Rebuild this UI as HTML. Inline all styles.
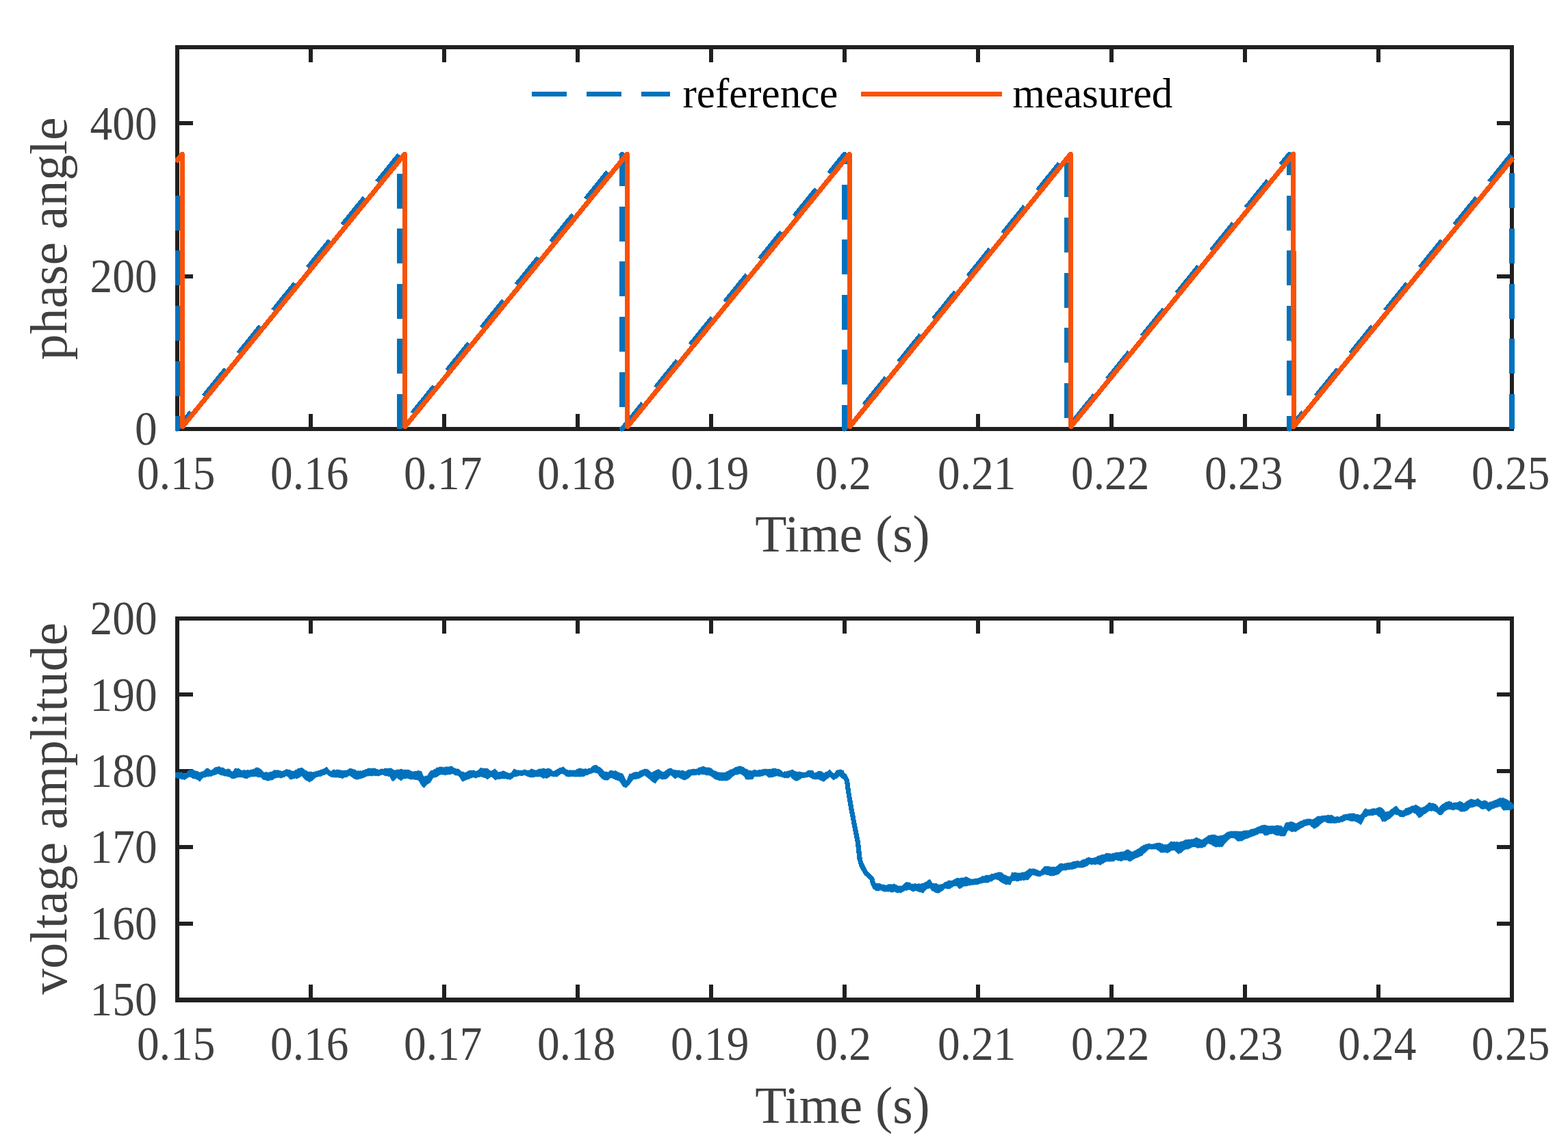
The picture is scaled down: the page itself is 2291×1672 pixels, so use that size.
<!DOCTYPE html>
<html><head><meta charset="utf-8"><title>phase angle and voltage amplitude</title>
<style>
html,body{margin:0;padding:0;background:#fff;width:2291px;height:1672px;overflow:hidden}
svg{display:block}
path,rect{shape-rendering:crispEdges}
text{font-family:"Liberation Serif", "Times New Roman", serif;}
.tk{font-size:69px;fill:#404040}
.lb{font-size:75.6px;fill:#404040}
.lg{font-size:61px;fill:#000}
</style></head><body>
<svg width="2291" height="1672" viewBox="0 0 2291 1672">
<rect width="2291" height="1672" fill="#ffffff"/>
<defs><clipPath id="ca"><rect x="256" y="0" width="1957" height="1672"/></clipPath></defs>
<rect x="259.0" y="69.0" width="1950.0" height="558.0" fill="none" stroke="#202020" stroke-width="6" stroke-linejoin="miter" stroke-linecap="square"/>
<path d="M454.00 627.0V605.0M454.00 69.0V91.0M649.00 627.0V605.0M649.00 69.0V91.0M844.00 627.0V605.0M844.00 69.0V91.0M1039.00 627.0V605.0M1039.00 69.0V91.0M1234.00 627.0V605.0M1234.00 69.0V91.0M1429.00 627.0V605.0M1429.00 69.0V91.0M1624.00 627.0V605.0M1624.00 69.0V91.0M1819.00 627.0V605.0M1819.00 69.0V91.0M2014.00 627.0V605.0M2014.00 69.0V91.0M259.0 404.00H282.0M2209.0 404.00H2187.0M259.0 180.00H282.0M2209.0 180.00H2187.0" fill="none" stroke="#202020" stroke-width="6" stroke-linecap="butt"/>
<g clip-path="url(#ca)">
<path d="M259.00 284.00 L259.00 627.00 L584.00 225.24 L584.00 627.00 L909.00 225.24 L909.00 627.00 L1234.00 225.24 L1234.00 627.00 L1559.00 225.24 L1559.00 627.00 L1884.00 225.24 L1884.00 627.00 L2209.00 225.24 L2209.00 627.00" fill="none" stroke="#0072BD" stroke-width="7.2" stroke-dasharray="51.00 29.57" stroke-dashoffset="-1.81" stroke-linejoin="round"/>
<path d="M259.00 234.14 L266.20 225.24 L266.80 623.50 L591.20 225.24 L591.80 623.50 L916.20 225.24 L916.80 623.50 L1241.10 225.24 L1241.70 623.50 L1564.20 225.24 L1564.80 623.50 L1889.70 225.24 L1890.30 623.50 L2209.00 233.03" fill="none" stroke="#F85208" stroke-width="7.2" stroke-linejoin="round" stroke-linecap="round"/>
</g>
<path d="M777 137.2H979" fill="none" stroke="#0072BD" stroke-width="7.2" stroke-dasharray="51 29.2"/>
<path d="M1258 137.2H1463.7" fill="none" stroke="#F85208" stroke-width="7.2"/>
<text x="997.5" y="157.4" class="lg">reference</text>
<text x="1479.5" y="157.4" class="lg">measured</text>
<text transform="translate(257.20 714.70) scale(0.947 1)" text-anchor="middle" class="tk">0.15</text>
<text transform="translate(452.20 714.70) scale(0.947 1)" text-anchor="middle" class="tk">0.16</text>
<text transform="translate(647.20 714.70) scale(0.947 1)" text-anchor="middle" class="tk">0.17</text>
<text transform="translate(842.20 714.70) scale(0.947 1)" text-anchor="middle" class="tk">0.18</text>
<text transform="translate(1037.20 714.70) scale(0.947 1)" text-anchor="middle" class="tk">0.19</text>
<text transform="translate(1232.20 714.70) scale(0.947 1)" text-anchor="middle" class="tk">0.2</text>
<text transform="translate(1427.20 714.70) scale(0.947 1)" text-anchor="middle" class="tk">0.21</text>
<text transform="translate(1622.20 714.70) scale(0.947 1)" text-anchor="middle" class="tk">0.22</text>
<text transform="translate(1817.20 714.70) scale(0.947 1)" text-anchor="middle" class="tk">0.23</text>
<text transform="translate(2012.20 714.70) scale(0.947 1)" text-anchor="middle" class="tk">0.24</text>
<text transform="translate(2207.20 714.70) scale(0.947 1)" text-anchor="middle" class="tk">0.25</text>
<text transform="translate(229.60 650.20) scale(0.947 1)" text-anchor="end" class="tk">0</text>
<text transform="translate(229.60 427.00) scale(0.947 1)" text-anchor="end" class="tk">200</text>
<text transform="translate(229.60 203.80) scale(0.947 1)" text-anchor="end" class="tk">400</text>
<text x="1231" y="805.8" text-anchor="middle" class="lb">Time (s)</text>
<text transform="translate(96.8 348.8) rotate(-90)" text-anchor="middle" class="lb">phase angle</text>
<rect x="259.0" y="904.0" width="1950.0" height="557.0" fill="none" stroke="#202020" stroke-width="6" stroke-linejoin="miter" stroke-linecap="square"/>
<path d="M454.00 1461.0V1439.0M454.00 904.0V926.0M649.00 1461.0V1439.0M649.00 904.0V926.0M844.00 1461.0V1439.0M844.00 904.0V926.0M1039.00 1461.0V1439.0M1039.00 904.0V926.0M1234.00 1461.0V1439.0M1234.00 904.0V926.0M1429.00 1461.0V1439.0M1429.00 904.0V926.0M1624.00 1461.0V1439.0M1624.00 904.0V926.0M1819.00 1461.0V1439.0M1819.00 904.0V926.0M2014.00 1461.0V1439.0M2014.00 904.0V926.0M259.0 1350.00H282.0M2209.0 1350.00H2187.0M259.0 1238.00H282.0M2209.0 1238.00H2187.0M259.0 1127.00H282.0M2209.0 1127.00H2187.0M259.0 1015.00H282.0M2209.0 1015.00H2187.0" fill="none" stroke="#202020" stroke-width="6" stroke-linecap="butt"/>
<rect x="256" y="1464" width="1956" height="1" fill="#202020"/>
<g clip-path="url(#ca)">
<path d="M256.0 1129.6 L257.6 1129.2 L259.2 1128.6 L261.4 1128.9 L263.5 1129.0 L265.6 1128.6 L267.4 1129.9 L269.1 1130.3 L270.9 1130.7 L272.7 1129.7 L274.4 1126.8 L276.2 1125.9 L278.0 1125.3 L279.7 1125.5 L281.5 1124.3 L283.3 1125.4 L285.0 1126.6 L286.8 1127.0 L288.6 1127.1 L290.3 1128.3 L292.1 1129.1 L293.9 1128.0 L295.6 1127.7 L297.4 1127.0 L299.2 1125.7 L300.9 1123.5 L302.7 1122.7 L304.5 1123.4 L306.2 1124.5 L308.0 1125.9 L309.8 1125.2 L311.5 1123.8 L313.3 1122.2 L315.1 1121.2 L316.8 1121.5 L318.6 1120.6 L320.4 1120.4 L322.1 1121.5 L323.9 1121.7 L325.7 1122.0 L327.4 1122.7 L329.2 1124.3 L331.0 1124.7 L332.7 1123.6 L334.5 1123.8 L336.3 1124.8 L338.0 1127.3 L339.8 1128.0 L341.4 1126.2 L343.0 1123.3 L344.8 1122.8 L346.5 1123.5 L348.3 1122.7 L350.4 1124.4 L352.5 1125.9 L354.7 1126.0 L356.8 1125.2 L358.9 1126.1 L361.0 1125.4 L362.8 1125.5 L364.5 1125.7 L366.3 1124.8 L368.1 1125.0 L369.8 1123.9 L371.6 1123.8 L373.2 1122.5 L374.8 1121.7 L376.6 1121.9 L378.3 1122.6 L380.1 1123.8 L381.9 1124.8 L383.6 1126.7 L385.4 1128.6 L387.2 1128.9 L388.9 1128.2 L390.7 1129.1 L392.8 1129.0 L394.9 1128.1 L397.1 1128.0 L399.2 1126.4 L401.3 1125.4 L403.4 1125.8 L405.5 1125.4 L407.7 1126.1 L409.8 1126.5 L411.9 1127.5 L413.8 1126.7 L415.6 1126.2 L417.5 1124.5 L419.3 1124.3 L421.1 1125.5 L422.9 1124.7 L424.6 1125.9 L426.4 1126.6 L428.2 1127.1 L429.9 1127.0 L431.7 1125.1 L433.5 1124.9 L435.2 1123.3 L437.0 1122.7 L438.8 1122.7 L440.5 1122.2 L442.3 1122.7 L444.1 1124.0 L445.8 1125.9 L447.9 1126.2 L450.1 1128.0 L452.2 1128.0 L454.3 1127.9 L456.4 1128.6 L458.2 1128.4 L460.0 1128.1 L461.7 1127.0 L463.5 1127.2 L465.3 1126.0 L467.0 1125.9 L468.8 1125.0 L470.6 1124.5 L472.3 1123.8 L474.1 1123.3 L475.9 1121.5 L477.6 1121.1 L479.4 1123.4 L481.2 1125.4 L482.9 1127.0 L484.7 1126.8 L486.5 1124.9 L488.2 1124.8 L490.5 1125.6 L492.7 1124.6 L495.0 1125.4 L496.8 1125.3 L498.5 1125.9 L500.3 1125.9 L502.1 1126.5 L503.8 1125.7 L505.6 1125.9 L507.4 1125.6 L509.1 1124.2 L510.9 1123.3 L512.7 1123.3 L514.4 1123.7 L516.2 1124.3 L518.0 1124.7 L519.7 1125.5 L521.5 1127.0 L523.3 1126.3 L525.0 1126.9 L526.8 1126.4 L528.6 1127.0 L530.3 1125.6 L532.1 1125.9 L533.9 1124.2 L535.6 1124.5 L537.4 1122.7 L539.2 1122.9 L540.9 1122.9 L542.7 1123.3 L544.5 1122.7 L546.2 1123.0 L548.0 1122.7 L549.8 1124.1 L551.5 1124.4 L553.3 1125.4 L555.1 1124.7 L556.8 1123.7 L558.6 1123.8 L560.4 1124.2 L562.1 1122.8 L563.9 1123.3 L565.7 1123.1 L567.4 1123.4 L569.2 1122.7 L570.8 1122.5 L572.4 1123.3 L574.0 1124.6 L575.6 1125.4 L577.7 1125.7 L579.8 1124.8 L581.6 1124.8 L583.3 1124.9 L585.1 1124.3 L586.9 1124.1 L588.6 1124.9 L590.4 1125.4 L592.2 1124.7 L593.9 1125.5 L595.7 1124.8 L597.5 1125.3 L599.2 1126.2 L601.0 1127.0 L602.8 1127.7 L604.5 1127.5 L606.3 1127.0 L608.1 1127.5 L609.8 1126.5 L611.6 1126.4 L613.7 1126.9 L615.9 1127.5 L617.4 1131.5 L619.0 1134.9 L620.8 1134.5 L622.6 1133.9 L624.3 1133.9 L626.5 1130.3 L628.6 1127.0 L630.7 1125.9 L632.8 1125.9 L634.6 1124.3 L636.3 1123.8 L638.1 1121.7 L639.9 1122.0 L641.6 1121.1 L643.4 1120.6 L645.2 1121.0 L646.9 1121.1 L648.7 1121.7 L650.5 1120.7 L652.2 1120.6 L654.0 1120.6 L655.8 1120.6 L657.5 1120.4 L659.3 1119.5 L661.1 1120.4 L662.9 1122.1 L664.6 1122.7 L666.4 1123.5 L668.2 1123.7 L669.9 1123.8 L671.7 1125.4 L673.5 1127.0 L675.2 1128.0 L677.0 1128.2 L678.8 1129.0 L680.5 1129.1 L682.3 1127.7 L684.1 1126.9 L685.8 1125.9 L687.6 1126.3 L689.4 1126.2 L691.1 1125.9 L692.9 1126.0 L694.7 1127.2 L696.4 1127.0 L698.2 1125.8 L700.0 1124.2 L701.7 1122.7 L703.5 1122.2 L705.3 1123.1 L707.0 1123.3 L708.8 1122.9 L710.6 1123.5 L712.3 1123.3 L714.1 1124.4 L715.9 1126.2 L717.6 1127.0 L719.4 1125.9 L721.2 1124.9 L722.9 1123.3 L724.7 1124.8 L726.5 1127.0 L728.2 1128.6 L730.5 1128.2 L732.7 1127.6 L735.0 1126.4 L736.8 1126.9 L738.5 1128.3 L740.3 1128.6 L742.1 1129.6 L743.8 1129.9 L745.6 1130.1 L747.4 1128.7 L749.1 1126.5 L750.9 1123.8 L752.7 1124.5 L754.4 1125.2 L756.2 1125.9 L758.0 1125.4 L759.7 1126.4 L761.5 1125.9 L763.3 1126.2 L765.0 1125.2 L766.8 1124.8 L768.6 1125.5 L770.3 1125.9 L772.1 1125.9 L773.9 1125.5 L775.6 1124.0 L777.4 1123.8 L779.2 1124.9 L780.9 1125.3 L782.7 1125.9 L784.5 1125.4 L786.2 1124.4 L788.0 1123.8 L789.8 1123.6 L791.5 1123.5 L793.3 1122.7 L795.1 1123.3 L796.8 1123.7 L798.6 1123.8 L800.4 1123.1 L802.1 1123.3 L803.9 1123.8 L805.7 1124.9 L807.4 1126.5 L809.2 1127.5 L811.0 1125.9 L812.7 1125.3 L814.5 1123.8 L816.3 1123.4 L818.0 1122.1 L819.8 1122.2 L821.4 1121.4 L823.0 1120.6 L825.1 1122.3 L827.2 1124.8 L828.8 1124.7 L830.4 1125.9 L832.2 1125.4 L833.9 1125.6 L835.7 1125.9 L837.5 1125.5 L839.2 1125.5 L841.0 1125.9 L842.8 1124.2 L844.5 1123.7 L846.3 1122.7 L848.1 1122.9 L849.8 1123.6 L851.6 1123.8 L853.4 1123.9 L855.1 1123.4 L856.9 1123.8 L858.7 1124.2 L860.4 1122.7 L862.2 1123.3 L864.0 1121.5 L865.7 1119.8 L867.5 1118.5 L869.3 1118.5 L871.0 1118.3 L872.8 1119.0 L874.6 1120.7 L876.3 1121.3 L878.1 1122.7 L879.9 1123.8 L881.6 1126.4 L883.4 1128.0 L885.2 1127.6 L886.9 1128.4 L888.7 1128.6 L890.3 1127.0 L891.9 1125.9 L893.8 1126.1 L895.6 1126.8 L897.5 1126.7 L899.3 1126.4 L901.1 1127.2 L902.9 1128.6 L904.6 1129.1 L906.4 1130.0 L908.2 1130.3 L909.9 1131.2 L911.7 1134.2 L913.5 1138.4 L915.2 1141.8 L917.3 1136.6 L919.5 1131.2 L921.6 1131.0 L923.7 1130.1 L925.8 1128.6 L927.6 1128.7 L929.4 1128.3 L931.1 1128.6 L932.9 1128.4 L934.7 1126.4 L936.4 1126.4 L938.2 1125.0 L940.0 1124.8 L941.7 1123.8 L943.5 1124.3 L945.3 1124.0 L947.0 1124.8 L948.8 1126.4 L950.6 1128.2 L952.3 1129.1 L954.1 1128.0 L955.9 1127.2 L957.6 1126.4 L959.4 1125.3 L961.2 1124.7 L962.9 1124.3 L964.7 1126.4 L966.5 1127.0 L968.2 1128.6 L970.5 1127.8 L972.7 1126.3 L975.0 1124.3 L977.1 1123.7 L979.2 1122.7 L981.4 1123.3 L983.5 1125.2 L985.6 1125.4 L987.4 1125.5 L989.1 1125.6 L990.9 1125.9 L992.7 1125.6 L994.4 1126.6 L996.2 1125.9 L998.0 1126.4 L999.7 1126.7 L1001.5 1127.5 L1003.3 1126.6 L1005.0 1125.2 L1006.8 1124.8 L1008.6 1124.8 L1010.3 1124.4 L1012.1 1124.3 L1013.9 1123.8 L1015.6 1124.4 L1017.4 1123.8 L1019.2 1123.5 L1020.9 1121.7 L1022.7 1121.7 L1024.5 1121.2 L1026.2 1120.3 L1028.0 1120.1 L1029.8 1121.2 L1031.5 1121.5 L1033.3 1121.7 L1035.1 1121.7 L1036.8 1122.0 L1038.6 1122.7 L1040.4 1123.5 L1042.1 1125.9 L1043.9 1126.4 L1045.7 1126.8 L1047.4 1128.0 L1049.2 1128.6 L1051.0 1128.7 L1052.7 1129.1 L1054.5 1129.1 L1056.3 1129.2 L1058.0 1129.4 L1059.8 1129.1 L1061.6 1127.5 L1063.3 1127.3 L1065.1 1125.9 L1066.9 1124.9 L1068.6 1124.5 L1070.4 1123.8 L1072.2 1122.7 L1073.9 1121.7 L1075.7 1121.1 L1077.5 1120.6 L1079.2 1120.0 L1081.0 1119.5 L1082.8 1119.9 L1084.5 1120.9 L1086.3 1121.1 L1087.9 1122.6 L1089.5 1123.8 L1091.3 1124.0 L1093.0 1125.2 L1094.8 1126.4 L1096.6 1126.2 L1098.3 1126.7 L1100.1 1125.9 L1102.2 1124.8 L1104.0 1125.7 L1105.7 1125.6 L1107.5 1125.9 L1109.3 1124.9 L1111.0 1125.6 L1112.8 1124.8 L1114.6 1124.4 L1116.3 1124.2 L1118.1 1123.8 L1119.9 1124.2 L1121.6 1124.3 L1123.4 1124.3 L1125.2 1123.9 L1126.9 1124.2 L1128.7 1123.3 L1130.5 1123.1 L1132.2 1123.1 L1134.0 1123.3 L1135.8 1124.3 L1137.5 1123.9 L1139.3 1124.8 L1141.1 1125.8 L1142.9 1127.8 L1144.6 1128.6 L1146.4 1127.4 L1148.2 1128.0 L1149.9 1127.0 L1151.7 1126.9 L1153.5 1126.2 L1155.2 1125.9 L1156.8 1125.1 L1158.4 1124.8 L1160.5 1126.6 L1162.6 1127.5 L1164.2 1128.3 L1165.8 1128.0 L1167.6 1127.7 L1169.4 1128.3 L1171.1 1128.6 L1172.9 1128.8 L1174.7 1128.9 L1176.4 1129.1 L1178.2 1127.8 L1180.0 1126.5 L1181.7 1125.9 L1183.5 1126.0 L1185.3 1126.3 L1187.0 1125.9 L1188.6 1127.4 L1190.2 1130.1 L1192.0 1128.7 L1193.7 1128.5 L1195.5 1127.0 L1197.6 1127.4 L1199.7 1127.0 L1201.9 1128.8 L1204.0 1130.1 L1206.1 1128.4 L1208.2 1128.0 L1210.2 1126.6 L1212.3 1124.5 L1214.3 1127.2 L1216.3 1129.3 L1218.3 1130.6 L1220.4 1129.3 L1222.5 1126.9 L1224.7 1126.5 L1226.8 1124.5 L1228.8 1124.7 L1230.8 1125.9 L1232.8 1126.3 L1232.8 1139.0 L1230.8 1138.0 L1228.8 1136.5 L1226.8 1134.2 L1224.7 1136.0 L1222.5 1137.6 L1220.4 1138.1 L1218.3 1140.3 L1216.3 1138.9 L1214.3 1136.7 L1212.3 1135.4 L1210.2 1137.6 L1208.2 1138.6 L1206.1 1140.2 L1204.0 1142.3 L1201.9 1141.8 L1199.7 1140.7 L1197.6 1140.0 L1195.5 1138.6 L1193.7 1138.9 L1192.0 1138.8 L1190.2 1139.2 L1188.6 1138.3 L1187.0 1138.6 L1185.3 1137.0 L1183.5 1136.2 L1181.7 1135.4 L1180.0 1135.8 L1178.2 1136.4 L1176.4 1136.5 L1174.7 1136.8 L1172.9 1136.7 L1171.1 1137.0 L1169.4 1138.7 L1167.6 1139.6 L1165.8 1140.7 L1164.2 1141.2 L1162.6 1141.3 L1160.5 1140.2 L1158.4 1138.6 L1156.8 1137.4 L1155.2 1134.9 L1153.5 1136.1 L1151.7 1137.0 L1149.9 1137.0 L1148.2 1136.7 L1146.4 1137.0 L1144.6 1136.5 L1142.9 1135.9 L1141.1 1135.3 L1139.3 1134.9 L1137.5 1134.5 L1135.8 1133.9 L1134.0 1134.4 L1132.2 1134.7 L1130.5 1135.3 L1128.7 1136.0 L1126.9 1135.7 L1125.2 1136.4 L1123.4 1136.5 L1121.6 1135.3 L1119.9 1133.3 L1118.1 1132.8 L1116.3 1133.1 L1114.6 1134.3 L1112.8 1134.4 L1111.0 1134.7 L1109.3 1135.2 L1107.5 1134.9 L1105.7 1135.2 L1104.0 1134.7 L1102.2 1134.9 L1100.1 1138.6 L1098.3 1139.2 L1096.6 1138.6 L1094.8 1139.2 L1093.0 1139.5 L1091.3 1139.1 L1089.5 1138.6 L1087.9 1135.7 L1086.3 1133.9 L1084.5 1132.5 L1082.8 1131.4 L1081.0 1131.2 L1079.2 1131.5 L1077.5 1132.4 L1075.7 1132.3 L1073.9 1132.6 L1072.2 1133.9 L1070.4 1134.9 L1068.6 1136.7 L1066.9 1138.6 L1065.1 1139.7 L1063.3 1140.5 L1061.6 1141.1 L1059.8 1140.7 L1058.0 1140.6 L1056.3 1140.9 L1054.5 1141.3 L1052.7 1140.6 L1051.0 1140.9 L1049.2 1140.2 L1047.4 1139.5 L1045.7 1139.2 L1043.9 1138.6 L1042.1 1136.8 L1040.4 1135.5 L1038.6 1134.4 L1036.8 1133.5 L1035.1 1133.2 L1033.3 1132.8 L1031.5 1133.0 L1029.8 1132.1 L1028.0 1131.7 L1026.2 1132.0 L1024.5 1131.4 L1022.7 1132.3 L1020.9 1133.1 L1019.2 1132.0 L1017.4 1132.8 L1015.6 1132.7 L1013.9 1133.2 L1012.1 1132.8 L1010.3 1133.5 L1008.6 1135.4 L1006.8 1136.5 L1005.0 1138.2 L1003.3 1138.7 L1001.5 1139.7 L999.7 1139.9 L998.0 1139.4 L996.2 1138.6 L994.4 1137.7 L992.7 1136.8 L990.9 1136.0 L989.1 1136.4 L987.4 1137.6 L985.6 1137.6 L983.5 1135.7 L981.4 1133.8 L979.2 1132.8 L977.1 1135.6 L975.0 1137.6 L972.7 1138.7 L970.5 1138.5 L968.2 1139.2 L966.5 1139.1 L964.7 1138.0 L962.9 1138.1 L961.2 1140.4 L959.4 1142.1 L957.6 1145.0 L955.9 1144.2 L954.1 1143.3 L952.3 1141.8 L950.6 1140.5 L948.8 1138.3 L947.0 1137.6 L945.3 1135.9 L943.5 1134.5 L941.7 1133.3 L940.0 1134.3 L938.2 1135.1 L936.4 1136.5 L934.7 1137.2 L932.9 1138.2 L931.1 1138.1 L929.4 1138.9 L927.6 1138.6 L925.8 1139.2 L923.7 1141.3 L921.6 1143.8 L919.5 1147.1 L917.3 1148.6 L915.2 1151.3 L913.5 1150.7 L911.7 1150.3 L909.9 1149.2 L908.2 1146.0 L906.4 1143.6 L904.6 1141.3 L902.9 1141.0 L901.1 1139.9 L899.3 1139.7 L897.5 1138.6 L895.6 1137.8 L893.8 1137.2 L891.9 1137.0 L890.3 1138.5 L888.7 1140.2 L886.9 1140.6 L885.2 1139.9 L883.4 1140.2 L881.6 1139.3 L879.9 1138.1 L878.1 1136.5 L876.3 1134.8 L874.6 1132.1 L872.8 1129.6 L871.0 1129.9 L869.3 1129.2 L867.5 1129.1 L865.7 1129.7 L864.0 1130.5 L862.2 1130.7 L860.4 1131.6 L858.7 1132.6 L856.9 1132.8 L855.1 1133.6 L853.4 1134.6 L851.6 1134.9 L849.8 1134.8 L848.1 1135.2 L846.3 1135.4 L844.5 1134.9 L842.8 1135.3 L841.0 1135.4 L839.2 1135.0 L837.5 1134.7 L835.7 1134.9 L833.9 1134.5 L832.2 1135.5 L830.4 1135.4 L828.8 1134.6 L827.2 1134.9 L825.1 1132.7 L823.0 1131.2 L821.4 1131.0 L819.8 1130.7 L818.0 1132.2 L816.3 1133.3 L814.5 1135.4 L812.7 1135.1 L811.0 1134.9 L809.2 1135.4 L807.4 1134.6 L805.7 1134.5 L803.9 1134.4 L802.1 1135.9 L800.4 1136.9 L798.6 1137.6 L796.8 1137.0 L795.1 1137.3 L793.3 1137.6 L791.5 1136.1 L789.8 1135.4 L788.0 1134.9 L786.2 1135.5 L784.5 1135.2 L782.7 1135.4 L780.9 1135.3 L779.2 1136.4 L777.4 1136.0 L775.6 1136.1 L773.9 1135.8 L772.1 1135.4 L770.3 1134.4 L768.6 1133.8 L766.8 1132.8 L765.0 1133.1 L763.3 1133.6 L761.5 1133.9 L759.7 1133.4 L758.0 1133.8 L756.2 1134.4 L754.4 1135.2 L752.7 1135.2 L750.9 1135.4 L749.1 1137.4 L747.4 1138.3 L745.6 1139.7 L743.8 1138.8 L742.1 1138.7 L740.3 1138.6 L738.5 1137.9 L736.8 1138.3 L735.0 1138.1 L732.7 1138.1 L730.5 1138.5 L728.2 1138.6 L726.5 1138.5 L724.7 1140.0 L722.9 1139.7 L721.2 1137.6 L719.4 1136.2 L717.6 1135.4 L715.9 1136.4 L714.1 1137.8 L712.3 1139.2 L710.6 1137.9 L708.8 1136.8 L707.0 1136.5 L705.3 1136.0 L703.5 1135.2 L701.7 1135.4 L700.0 1135.6 L698.2 1135.9 L696.4 1137.0 L694.7 1137.3 L692.9 1136.3 L691.1 1136.0 L689.4 1137.4 L687.6 1137.1 L685.8 1138.6 L684.1 1138.6 L682.3 1139.5 L680.5 1140.2 L678.8 1140.8 L677.0 1142.0 L675.2 1141.8 L673.5 1139.2 L671.7 1135.9 L669.9 1133.9 L668.2 1133.4 L666.4 1133.5 L664.6 1132.8 L662.9 1131.6 L661.1 1131.0 L659.3 1131.2 L657.5 1132.2 L655.8 1131.8 L654.0 1132.3 L652.2 1132.5 L650.5 1132.9 L648.7 1132.3 L646.9 1132.5 L645.2 1131.9 L643.4 1132.3 L641.6 1132.9 L639.9 1134.7 L638.1 1135.4 L636.3 1136.3 L634.6 1136.2 L632.8 1137.0 L630.7 1140.4 L628.6 1143.9 L626.5 1145.0 L624.3 1146.6 L622.6 1148.0 L620.8 1150.4 L619.0 1151.3 L617.4 1149.6 L615.9 1148.2 L613.7 1143.9 L611.6 1140.7 L609.8 1140.0 L608.1 1139.4 L606.3 1139.7 L604.5 1139.1 L602.8 1138.9 L601.0 1139.2 L599.2 1138.9 L597.5 1138.3 L595.7 1137.6 L593.9 1137.4 L592.2 1138.2 L590.4 1138.1 L588.6 1138.4 L586.9 1140.5 L585.1 1140.7 L583.3 1139.3 L581.6 1138.2 L579.8 1136.5 L577.7 1139.2 L575.6 1141.3 L574.0 1141.6 L572.4 1140.7 L570.8 1137.4 L569.2 1134.4 L567.4 1135.0 L565.7 1133.7 L563.9 1134.4 L562.1 1133.7 L560.4 1132.6 L558.6 1132.3 L556.8 1132.7 L555.1 1133.2 L553.3 1134.4 L551.5 1133.9 L549.8 1133.7 L548.0 1133.9 L546.2 1133.4 L544.5 1134.4 L542.7 1133.9 L540.9 1133.9 L539.2 1134.0 L537.4 1134.4 L535.6 1134.6 L533.9 1135.3 L532.1 1136.5 L530.3 1136.5 L528.6 1137.5 L526.8 1138.1 L525.0 1138.3 L523.3 1139.0 L521.5 1139.2 L519.7 1139.2 L518.0 1138.1 L516.2 1137.6 L514.4 1135.4 L512.7 1135.1 L510.9 1133.3 L509.1 1134.2 L507.4 1135.6 L505.6 1136.0 L503.8 1136.0 L502.1 1137.0 L500.3 1138.1 L498.5 1136.9 L496.8 1136.5 L495.0 1136.5 L492.7 1136.2 L490.5 1136.5 L488.2 1136.0 L486.5 1135.9 L484.7 1135.7 L482.9 1135.4 L481.2 1134.1 L479.4 1133.1 L477.6 1131.2 L475.9 1131.6 L474.1 1132.7 L472.3 1132.8 L470.6 1133.7 L468.8 1134.7 L467.0 1134.9 L465.3 1134.8 L463.5 1135.5 L461.7 1136.0 L460.0 1137.4 L458.2 1139.3 L456.4 1140.7 L454.3 1141.8 L452.2 1143.4 L450.1 1141.8 L447.9 1140.7 L445.8 1139.7 L444.1 1137.9 L442.3 1135.3 L440.5 1133.9 L438.8 1135.5 L437.0 1136.6 L435.2 1137.6 L433.5 1138.4 L431.7 1137.4 L429.9 1138.1 L428.2 1138.1 L426.4 1139.1 L424.6 1139.2 L422.9 1138.2 L421.1 1135.5 L419.3 1134.4 L417.5 1134.4 L415.6 1136.0 L413.8 1135.7 L411.9 1137.0 L409.8 1137.3 L407.7 1136.4 L405.5 1136.5 L403.4 1137.0 L401.3 1137.6 L399.2 1139.4 L397.1 1140.2 L394.9 1140.2 L392.8 1141.1 L390.7 1141.3 L388.9 1140.2 L387.2 1139.6 L385.4 1139.7 L383.6 1138.7 L381.9 1136.6 L380.1 1136.0 L378.3 1135.8 L376.6 1135.6 L374.8 1134.9 L373.2 1134.5 L371.6 1134.9 L369.8 1135.4 L368.1 1135.1 L366.3 1135.4 L364.5 1136.0 L362.8 1136.7 L361.0 1138.1 L358.9 1137.6 L356.8 1137.4 L354.7 1136.2 L352.5 1136.0 L350.4 1136.0 L348.3 1136.0 L346.5 1136.2 L344.8 1137.2 L343.0 1137.6 L341.4 1137.9 L339.8 1138.1 L338.0 1137.8 L336.3 1136.3 L334.5 1135.4 L332.7 1135.3 L331.0 1134.2 L329.2 1134.4 L327.4 1134.3 L325.7 1133.1 L323.9 1133.3 L322.1 1132.3 L320.4 1132.2 L318.6 1130.7 L316.8 1131.4 L315.1 1132.2 L313.3 1132.8 L311.5 1133.2 L309.8 1134.1 L308.0 1134.9 L306.2 1134.4 L304.5 1135.4 L302.7 1134.9 L300.9 1135.8 L299.2 1136.1 L297.4 1136.5 L295.6 1137.8 L293.9 1139.8 L292.1 1142.3 L290.3 1141.1 L288.6 1139.7 L286.8 1139.2 L285.0 1138.0 L283.3 1138.3 L281.5 1137.6 L279.7 1136.4 L278.0 1136.0 L276.2 1135.4 L274.4 1136.8 L272.7 1137.4 L270.9 1139.2 L269.1 1139.7 L267.4 1138.9 L265.6 1139.2 L263.5 1137.9 L261.4 1138.0 L259.2 1137.0 L257.6 1137.2 L256.0 1136.0Z" fill="#0072BD" stroke="#0072BD" stroke-width="0.6" stroke-linejoin="round"/>
<path d="M1279.2 1290.7 L1281.4 1291.1 L1283.5 1291.4 L1285.6 1291.3 L1287.4 1292.2 L1289.1 1293.0 L1290.9 1292.9 L1292.7 1293.4 L1294.4 1293.8 L1296.2 1293.4 L1298.0 1292.4 L1299.7 1292.6 L1301.5 1292.3 L1303.3 1292.8 L1305.0 1292.2 L1306.8 1291.8 L1308.6 1293.4 L1310.3 1293.4 L1312.1 1295.0 L1313.9 1294.9 L1315.6 1294.6 L1317.4 1295.0 L1319.2 1293.5 L1320.9 1291.9 L1322.7 1290.2 L1324.5 1289.4 L1326.2 1289.5 L1328.0 1289.7 L1329.8 1290.1 L1331.5 1291.7 L1333.3 1291.8 L1335.1 1292.2 L1336.8 1291.3 L1338.6 1291.8 L1340.4 1292.2 L1342.1 1291.3 L1343.9 1291.8 L1345.7 1291.8 L1347.4 1290.9 L1349.2 1291.3 L1351.0 1289.3 L1352.7 1289.3 L1354.5 1287.6 L1356.6 1286.1 L1358.7 1285.4 L1360.3 1287.4 L1361.9 1290.2 L1363.7 1291.2 L1365.5 1291.4 L1367.2 1291.3 L1369.0 1291.5 L1370.8 1293.0 L1372.5 1292.9 L1374.3 1292.6 L1376.1 1292.4 L1377.8 1291.8 L1379.4 1290.1 L1381.0 1289.2 L1382.8 1288.9 L1384.5 1287.7 L1386.3 1286.5 L1388.1 1287.3 L1389.8 1287.4 L1391.6 1287.0 L1393.4 1285.7 L1395.1 1284.7 L1396.9 1283.9 L1398.7 1283.4 L1400.4 1283.4 L1402.2 1283.9 L1404.0 1282.9 L1405.7 1282.9 L1407.5 1282.8 L1409.3 1282.6 L1411.0 1281.4 L1412.8 1281.7 L1414.6 1283.0 L1416.3 1283.6 L1418.1 1284.9 L1419.9 1284.5 L1421.6 1285.0 L1423.4 1284.4 L1425.2 1284.2 L1426.9 1283.8 L1428.7 1283.9 L1430.5 1282.9 L1432.2 1282.4 L1434.0 1281.2 L1435.8 1280.1 L1437.5 1280.8 L1439.3 1279.6 L1441.1 1278.8 L1442.9 1279.6 L1444.6 1279.1 L1446.4 1279.0 L1448.2 1277.3 L1449.9 1277.5 L1451.7 1277.4 L1453.5 1276.2 L1455.2 1275.9 L1457.0 1275.7 L1458.8 1274.5 L1460.5 1274.8 L1462.3 1274.9 L1464.1 1275.8 L1465.8 1277.0 L1467.6 1278.7 L1469.4 1278.7 L1471.1 1280.1 L1472.9 1280.7 L1474.7 1281.1 L1476.4 1280.7 L1478.5 1274.8 L1480.1 1275.7 L1481.7 1275.4 L1483.5 1275.3 L1485.3 1275.5 L1487.0 1275.9 L1488.8 1275.8 L1490.6 1275.9 L1492.3 1275.4 L1494.1 1274.5 L1495.9 1275.0 L1497.6 1274.3 L1499.4 1273.3 L1501.2 1272.0 L1502.9 1270.1 L1504.7 1269.2 L1506.5 1270.3 L1508.2 1269.5 L1510.5 1269.5 L1512.7 1270.4 L1515.0 1271.2 L1516.8 1271.9 L1518.5 1272.8 L1520.3 1272.8 L1522.1 1270.4 L1523.8 1269.1 L1525.6 1266.4 L1527.4 1266.5 L1529.1 1266.2 L1530.9 1266.4 L1532.7 1266.5 L1534.4 1266.7 L1536.2 1267.5 L1538.0 1266.9 L1539.7 1267.0 L1541.5 1267.5 L1543.3 1266.3 L1545.0 1265.3 L1546.8 1263.2 L1548.6 1262.4 L1550.3 1261.9 L1552.1 1262.2 L1553.9 1262.7 L1555.6 1261.9 L1557.4 1261.6 L1559.2 1261.3 L1560.9 1260.9 L1562.7 1261.1 L1564.5 1260.5 L1566.2 1260.2 L1568.0 1259.0 L1569.8 1258.8 L1571.5 1258.5 L1573.3 1258.5 L1575.1 1257.8 L1576.8 1259.0 L1578.6 1258.5 L1580.4 1256.9 L1582.1 1256.7 L1583.9 1255.8 L1585.7 1255.6 L1587.4 1253.9 L1589.2 1253.7 L1591.3 1252.6 L1592.9 1253.8 L1594.5 1254.2 L1596.3 1254.5 L1598.0 1253.7 L1599.8 1253.2 L1601.6 1252.9 L1603.3 1251.2 L1605.1 1251.0 L1606.7 1250.4 L1608.3 1250.0 L1610.4 1249.0 L1612.5 1248.9 L1614.1 1248.6 L1615.7 1247.3 L1617.5 1247.0 L1619.2 1247.3 L1621.0 1247.3 L1622.8 1247.9 L1624.5 1247.5 L1626.3 1246.8 L1628.1 1247.1 L1629.8 1246.0 L1631.6 1245.7 L1633.4 1245.5 L1635.1 1245.7 L1636.9 1245.2 L1638.7 1245.0 L1640.4 1244.6 L1642.2 1244.7 L1644.0 1243.5 L1645.7 1242.1 L1647.5 1241.5 L1649.1 1242.1 L1650.7 1243.1 L1652.8 1244.7 L1654.6 1244.8 L1656.3 1244.3 L1658.1 1243.1 L1659.9 1242.4 L1661.6 1241.3 L1663.4 1240.4 L1665.2 1239.0 L1666.9 1237.4 L1668.7 1236.7 L1670.5 1235.4 L1672.2 1235.0 L1674.0 1233.6 L1675.8 1233.9 L1677.5 1233.0 L1679.3 1233.0 L1681.1 1233.6 L1682.9 1233.8 L1684.6 1233.6 L1686.4 1233.3 L1688.2 1232.7 L1689.9 1232.0 L1691.7 1232.3 L1693.5 1231.8 L1695.2 1232.0 L1697.0 1233.1 L1698.8 1233.4 L1700.5 1234.6 L1702.3 1234.4 L1704.1 1234.6 L1705.8 1234.1 L1707.6 1232.9 L1709.4 1231.0 L1711.1 1229.8 L1712.9 1230.6 L1714.7 1230.4 L1716.4 1230.4 L1718.2 1230.7 L1720.0 1230.0 L1721.7 1230.9 L1723.5 1230.6 L1725.3 1229.8 L1727.0 1229.8 L1728.8 1229.2 L1730.6 1228.0 L1732.3 1227.2 L1734.1 1227.5 L1735.9 1227.0 L1737.6 1226.7 L1739.4 1227.1 L1741.2 1226.4 L1742.9 1226.7 L1744.7 1225.8 L1746.5 1224.9 L1748.2 1223.5 L1750.5 1225.3 L1752.7 1225.9 L1755.0 1227.5 L1756.8 1227.1 L1758.5 1226.2 L1760.3 1224.8 L1762.1 1223.7 L1763.8 1222.7 L1765.6 1220.6 L1767.4 1221.0 L1769.1 1220.3 L1770.9 1220.1 L1772.7 1220.3 L1774.4 1219.9 L1776.2 1220.6 L1778.0 1221.4 L1779.7 1221.9 L1781.5 1221.6 L1783.3 1221.3 L1785.0 1221.2 L1786.8 1220.6 L1788.6 1219.7 L1790.3 1218.4 L1792.1 1216.9 L1793.9 1215.7 L1795.6 1215.9 L1797.4 1214.8 L1799.2 1214.9 L1800.9 1215.0 L1802.7 1214.8 L1804.5 1214.6 L1806.2 1214.9 L1808.0 1214.8 L1809.8 1215.3 L1811.5 1215.3 L1813.3 1215.3 L1815.1 1215.2 L1816.8 1213.9 L1818.6 1214.2 L1820.4 1213.6 L1822.1 1213.8 L1823.9 1213.7 L1825.7 1213.2 L1827.4 1211.9 L1829.2 1211.6 L1831.0 1211.5 L1832.7 1211.1 L1834.5 1210.5 L1836.3 1209.0 L1838.0 1208.7 L1839.8 1207.9 L1841.6 1207.0 L1843.3 1206.2 L1845.1 1206.3 L1846.7 1205.5 L1848.3 1205.7 L1850.4 1206.3 L1852.5 1207.3 L1854.1 1206.9 L1855.7 1207.3 L1857.5 1206.9 L1859.2 1206.7 L1861.0 1207.3 L1862.8 1206.9 L1864.5 1206.5 L1866.3 1206.3 L1868.1 1206.6 L1869.8 1206.8 L1871.6 1206.8 L1873.2 1208.0 L1874.8 1210.0 L1876.4 1207.1 L1878.0 1203.1 L1880.1 1201.9 L1882.2 1202.0 L1884.0 1201.5 L1885.7 1201.0 L1887.5 1201.0 L1889.3 1201.7 L1891.0 1202.2 L1892.8 1203.6 L1894.6 1203.4 L1896.3 1202.0 L1898.1 1201.5 L1899.9 1200.0 L1901.6 1199.9 L1903.4 1198.9 L1905.2 1197.8 L1906.9 1197.9 L1908.7 1197.3 L1910.5 1196.9 L1912.2 1197.0 L1914.0 1196.7 L1915.8 1197.6 L1917.5 1197.5 L1919.3 1197.3 L1921.1 1195.7 L1922.9 1194.9 L1924.6 1193.0 L1926.4 1193.2 L1928.2 1192.8 L1929.9 1193.0 L1931.7 1192.2 L1933.5 1192.4 L1935.2 1192.0 L1937.0 1191.7 L1938.8 1191.9 L1940.5 1190.9 L1942.3 1191.7 L1944.1 1191.4 L1945.8 1191.4 L1947.6 1192.1 L1949.4 1193.7 L1951.1 1194.1 L1952.9 1193.4 L1954.7 1193.5 L1956.4 1194.1 L1958.2 1193.3 L1960.0 1192.5 L1961.7 1191.4 L1963.5 1190.4 L1965.3 1190.6 L1967.0 1189.8 L1968.8 1190.2 L1970.6 1189.3 L1972.3 1189.3 L1974.1 1189.0 L1975.9 1188.6 L1977.6 1188.8 L1979.4 1189.0 L1981.2 1190.5 L1982.9 1190.4 L1984.7 1190.4 L1986.5 1191.4 L1988.2 1190.9 L1990.2 1188.4 L1992.2 1185.0 L1994.2 1181.8 L1996.4 1182.0 L1998.5 1183.5 L2000.6 1183.4 L2002.4 1182.9 L2004.1 1182.2 L2005.9 1181.8 L2007.7 1181.4 L2009.4 1182.1 L2011.2 1181.3 L2013.0 1180.7 L2014.7 1179.9 L2016.5 1179.7 L2018.1 1180.4 L2019.7 1181.3 L2021.8 1183.4 L2023.9 1186.6 L2025.7 1186.6 L2027.5 1186.1 L2029.2 1186.0 L2030.8 1184.2 L2032.4 1182.9 L2034.2 1182.0 L2035.9 1180.8 L2037.7 1179.2 L2039.3 1178.2 L2040.9 1178.6 L2043.0 1181.3 L2045.1 1183.9 L2047.2 1184.1 L2049.4 1185.0 L2051.5 1183.7 L2053.6 1181.3 L2055.4 1181.3 L2057.1 1180.2 L2058.9 1180.2 L2060.7 1179.0 L2062.4 1178.0 L2064.2 1177.6 L2066.3 1177.5 L2068.4 1176.0 L2070.6 1177.0 L2072.7 1178.6 L2074.8 1179.8 L2076.9 1180.7 L2078.7 1179.8 L2080.5 1179.2 L2082.2 1178.1 L2084.0 1176.6 L2085.8 1175.3 L2087.5 1173.3 L2089.3 1173.0 L2091.1 1174.0 L2092.8 1173.9 L2094.6 1174.1 L2096.4 1175.0 L2098.1 1175.4 L2100.3 1177.9 L2102.4 1180.7 L2104.5 1178.1 L2106.6 1176.0 L2108.4 1175.0 L2110.1 1173.8 L2111.9 1172.8 L2113.7 1171.9 L2115.4 1171.7 L2117.2 1170.7 L2119.0 1171.9 L2120.7 1172.1 L2122.5 1173.9 L2124.3 1173.2 L2126.0 1173.1 L2127.8 1172.8 L2129.6 1172.7 L2131.3 1171.9 L2133.1 1170.7 L2134.9 1172.0 L2136.6 1172.5 L2138.4 1174.4 L2140.2 1173.5 L2141.9 1171.8 L2143.7 1170.7 L2145.5 1169.7 L2147.2 1168.8 L2149.0 1167.5 L2150.8 1168.2 L2152.5 1168.5 L2154.3 1169.1 L2156.1 1169.0 L2157.9 1167.5 L2159.6 1167.0 L2161.7 1168.7 L2163.9 1170.7 L2166.0 1171.0 L2168.1 1169.9 L2170.2 1170.1 L2172.0 1170.7 L2173.8 1172.4 L2175.5 1172.8 L2177.3 1171.5 L2179.1 1171.8 L2180.8 1170.7 L2182.6 1170.4 L2184.4 1169.5 L2186.1 1169.1 L2187.9 1167.7 L2189.7 1167.4 L2191.4 1165.9 L2193.2 1166.7 L2195.0 1165.8 L2196.7 1166.4 L2198.5 1167.1 L2200.3 1167.9 L2202.0 1168.6 L2203.8 1169.8 L2205.6 1170.8 L2207.3 1172.3 L2208.9 1173.1 L2210.5 1174.9 L2211.5 1175.9 L2211.5 1181.3 L2210.5 1182.3 L2208.9 1182.5 L2207.3 1183.9 L2205.6 1183.7 L2203.8 1183.8 L2202.0 1183.9 L2200.3 1183.7 L2198.5 1184.4 L2196.7 1184.5 L2195.0 1182.5 L2193.2 1179.9 L2191.4 1178.6 L2189.7 1179.0 L2187.9 1180.1 L2186.1 1180.2 L2184.4 1180.9 L2182.6 1181.8 L2180.8 1181.8 L2179.1 1183.5 L2177.3 1184.4 L2175.5 1186.0 L2173.8 1185.0 L2172.0 1182.8 L2170.2 1181.8 L2168.1 1182.5 L2166.0 1182.5 L2163.9 1182.3 L2161.7 1179.9 L2159.6 1178.6 L2157.9 1178.3 L2156.1 1178.3 L2154.3 1179.2 L2152.5 1179.5 L2150.8 1180.3 L2149.0 1180.2 L2147.2 1181.1 L2145.5 1182.9 L2143.7 1184.5 L2141.9 1185.1 L2140.2 1186.0 L2138.4 1186.0 L2136.6 1186.3 L2134.9 1186.4 L2133.1 1185.5 L2131.3 1184.3 L2129.6 1183.5 L2127.8 1182.9 L2126.0 1182.9 L2124.3 1183.9 L2122.5 1183.9 L2120.7 1183.4 L2119.0 1183.3 L2117.2 1182.9 L2115.4 1183.2 L2113.7 1184.0 L2111.9 1185.0 L2110.1 1186.5 L2108.4 1188.7 L2106.6 1190.8 L2104.5 1191.3 L2102.4 1190.8 L2100.3 1188.7 L2098.1 1186.6 L2096.4 1186.2 L2094.6 1184.9 L2092.8 1185.0 L2091.1 1185.8 L2089.3 1184.7 L2087.5 1185.5 L2085.8 1186.6 L2084.0 1188.4 L2082.2 1189.2 L2080.5 1190.1 L2078.7 1192.2 L2076.9 1193.5 L2074.8 1194.9 L2072.7 1195.1 L2070.6 1192.2 L2068.4 1189.2 L2066.3 1188.8 L2064.2 1187.1 L2062.4 1188.7 L2060.7 1189.5 L2058.9 1190.8 L2057.1 1191.3 L2055.4 1191.8 L2053.6 1192.4 L2051.5 1193.8 L2049.4 1194.0 L2047.2 1193.5 L2045.1 1193.5 L2043.0 1191.6 L2040.9 1190.8 L2039.3 1190.7 L2037.7 1189.8 L2035.9 1192.1 L2034.2 1193.2 L2032.4 1195.1 L2030.8 1196.4 L2029.2 1197.2 L2027.5 1198.0 L2025.7 1199.7 L2023.9 1200.9 L2021.8 1200.3 L2019.7 1200.9 L2018.1 1198.0 L2016.5 1194.5 L2014.7 1193.7 L2013.0 1192.2 L2011.2 1190.8 L2009.4 1190.5 L2007.7 1191.3 L2005.9 1191.9 L2004.1 1191.7 L2002.4 1191.8 L2000.6 1191.9 L1998.5 1192.4 L1996.4 1193.8 L1994.2 1194.5 L1992.2 1198.9 L1990.2 1202.5 L1988.2 1205.7 L1986.5 1204.3 L1984.7 1202.8 L1982.9 1202.0 L1981.2 1200.9 L1979.4 1200.3 L1977.6 1200.4 L1975.9 1200.3 L1974.1 1200.5 L1972.3 1199.9 L1970.6 1198.8 L1968.8 1198.6 L1967.0 1198.3 L1965.3 1199.6 L1963.5 1200.1 L1961.7 1201.5 L1960.0 1201.4 L1958.2 1201.6 L1956.4 1202.6 L1954.7 1202.2 L1952.9 1202.8 L1951.1 1203.1 L1949.4 1203.5 L1947.6 1202.8 L1945.8 1203.1 L1944.1 1203.2 L1942.3 1203.1 L1940.5 1202.6 L1938.8 1202.5 L1937.0 1201.4 L1935.2 1200.4 L1933.5 1202.1 L1931.7 1202.8 L1929.9 1204.2 L1928.2 1205.8 L1926.4 1207.7 L1924.6 1208.9 L1922.9 1209.8 L1921.1 1210.9 L1919.3 1211.0 L1917.5 1209.4 L1915.8 1207.9 L1914.0 1205.7 L1912.2 1205.8 L1910.5 1206.3 L1908.7 1206.8 L1906.9 1207.1 L1905.2 1208.4 L1903.4 1209.5 L1901.6 1210.2 L1899.9 1211.2 L1898.1 1212.6 L1896.3 1213.1 L1894.6 1215.0 L1892.8 1215.8 L1891.0 1215.2 L1889.3 1215.5 L1887.5 1215.8 L1885.7 1215.0 L1884.0 1213.9 L1882.2 1213.2 L1880.1 1216.8 L1878.0 1221.6 L1876.4 1221.6 L1874.8 1222.2 L1873.2 1221.6 L1871.6 1222.2 L1869.8 1221.3 L1868.1 1221.2 L1866.3 1221.1 L1864.5 1220.9 L1862.8 1220.1 L1861.0 1219.0 L1859.2 1218.4 L1857.5 1218.7 L1855.7 1219.0 L1854.1 1219.3 L1852.5 1220.6 L1850.4 1220.5 L1848.3 1221.1 L1846.7 1220.0 L1845.1 1217.9 L1843.3 1217.9 L1841.6 1217.7 L1839.8 1217.9 L1838.0 1219.4 L1836.3 1220.0 L1834.5 1220.6 L1832.7 1221.5 L1831.0 1221.8 L1829.2 1222.7 L1827.4 1223.5 L1825.7 1224.1 L1823.9 1224.8 L1822.1 1225.6 L1820.4 1225.6 L1818.6 1226.9 L1816.8 1227.3 L1815.1 1228.9 L1813.3 1229.1 L1811.5 1229.2 L1809.8 1229.7 L1808.0 1229.1 L1806.2 1227.7 L1804.5 1225.7 L1802.7 1224.8 L1800.9 1224.7 L1799.2 1224.6 L1797.4 1225.4 L1795.6 1227.0 L1793.9 1228.4 L1792.1 1230.1 L1790.3 1232.4 L1788.6 1234.3 L1786.8 1237.0 L1785.0 1238.0 L1783.3 1237.1 L1781.5 1238.1 L1779.7 1237.4 L1778.0 1237.8 L1776.2 1238.1 L1774.4 1237.1 L1772.7 1236.0 L1770.9 1235.4 L1769.1 1233.9 L1767.4 1233.5 L1765.6 1232.8 L1763.8 1233.9 L1762.1 1236.0 L1760.3 1238.1 L1758.5 1237.8 L1756.8 1239.4 L1755.0 1239.1 L1752.7 1239.0 L1750.5 1239.5 L1748.2 1238.9 L1746.5 1237.9 L1744.7 1237.6 L1742.9 1237.8 L1741.2 1238.5 L1739.4 1239.6 L1737.6 1240.4 L1735.9 1241.5 L1734.1 1241.2 L1732.3 1241.5 L1730.6 1242.1 L1728.8 1243.9 L1727.0 1245.2 L1725.3 1246.7 L1723.5 1246.7 L1721.7 1248.4 L1720.0 1245.8 L1718.2 1245.2 L1716.4 1242.6 L1714.7 1242.6 L1712.9 1243.1 L1711.1 1243.1 L1709.4 1244.9 L1707.6 1245.8 L1705.8 1246.8 L1704.1 1246.1 L1702.3 1245.6 L1700.5 1245.7 L1698.8 1246.0 L1697.0 1246.1 L1695.2 1245.7 L1693.5 1244.0 L1691.7 1242.9 L1689.9 1241.5 L1688.2 1241.1 L1686.4 1241.0 L1684.6 1241.0 L1682.9 1241.6 L1681.1 1240.8 L1679.3 1241.0 L1677.5 1242.0 L1675.8 1243.8 L1674.0 1245.7 L1672.2 1246.7 L1670.5 1248.5 L1668.7 1250.5 L1666.9 1250.7 L1665.2 1252.2 L1663.4 1252.6 L1661.6 1253.6 L1659.9 1253.8 L1658.1 1254.8 L1656.3 1256.2 L1654.6 1256.7 L1652.8 1258.5 L1650.7 1258.5 L1649.1 1258.6 L1647.5 1257.4 L1645.7 1257.2 L1644.0 1257.3 L1642.2 1256.9 L1640.4 1257.7 L1638.7 1258.5 L1636.9 1258.5 L1635.1 1257.8 L1633.4 1258.0 L1631.6 1256.9 L1629.8 1256.9 L1628.1 1258.3 L1626.3 1259.0 L1624.5 1258.8 L1622.8 1259.0 L1621.0 1259.5 L1619.2 1259.1 L1617.5 1259.2 L1615.7 1259.5 L1614.1 1260.2 L1612.5 1261.6 L1610.4 1262.5 L1608.3 1264.3 L1606.7 1264.3 L1605.1 1263.2 L1603.3 1263.3 L1601.6 1263.4 L1599.8 1263.8 L1598.0 1263.3 L1596.3 1263.3 L1594.5 1263.8 L1592.9 1262.9 L1591.3 1263.2 L1589.2 1265.4 L1587.4 1266.0 L1585.7 1266.7 L1583.9 1267.5 L1582.1 1267.8 L1580.4 1268.4 L1578.6 1268.0 L1576.8 1268.1 L1575.1 1267.7 L1573.3 1268.5 L1571.5 1269.4 L1569.8 1269.6 L1568.0 1270.1 L1566.2 1271.0 L1564.5 1270.2 L1562.7 1271.2 L1560.9 1271.1 L1559.2 1271.2 L1557.4 1272.2 L1555.6 1271.7 L1553.9 1272.1 L1552.1 1272.2 L1550.3 1274.3 L1548.6 1275.9 L1546.8 1277.5 L1545.0 1278.2 L1543.3 1278.6 L1541.5 1279.1 L1539.7 1280.0 L1538.0 1279.8 L1536.2 1280.2 L1534.4 1280.1 L1532.7 1279.3 L1530.9 1278.6 L1529.1 1278.9 L1527.4 1277.7 L1525.6 1278.1 L1523.8 1278.8 L1522.1 1279.6 L1520.3 1280.7 L1518.5 1280.9 L1516.8 1280.5 L1515.0 1280.7 L1512.7 1279.6 L1510.5 1279.1 L1508.2 1278.6 L1506.5 1281.0 L1504.7 1282.6 L1502.9 1285.4 L1501.2 1286.1 L1499.4 1286.0 L1497.6 1286.0 L1495.9 1287.0 L1494.1 1286.1 L1492.3 1287.0 L1490.6 1286.8 L1488.8 1287.6 L1487.0 1287.6 L1485.3 1288.2 L1483.5 1287.1 L1481.7 1287.6 L1480.1 1287.2 L1478.5 1288.1 L1476.4 1292.9 L1474.7 1293.2 L1472.9 1292.2 L1471.1 1292.9 L1469.4 1292.7 L1467.6 1291.6 L1465.8 1291.3 L1464.1 1290.0 L1462.3 1289.3 L1460.5 1287.6 L1458.8 1286.3 L1457.0 1285.9 L1455.2 1284.9 L1453.5 1285.3 L1451.7 1286.1 L1449.9 1287.6 L1448.2 1288.5 L1446.4 1288.4 L1444.6 1289.7 L1442.9 1290.1 L1441.1 1290.3 L1439.3 1290.2 L1437.5 1289.9 L1435.8 1290.9 L1434.0 1290.7 L1432.2 1291.3 L1430.5 1291.8 L1428.7 1292.9 L1426.9 1292.4 L1425.2 1292.9 L1423.4 1292.9 L1421.6 1293.6 L1419.9 1293.2 L1418.1 1293.9 L1416.3 1294.3 L1414.6 1294.3 L1412.8 1295.0 L1411.0 1295.3 L1409.3 1295.4 L1407.5 1295.5 L1405.7 1297.3 L1404.0 1298.0 L1402.2 1299.2 L1400.4 1297.8 L1398.7 1295.6 L1396.9 1294.5 L1395.1 1295.4 L1393.4 1295.2 L1391.6 1296.6 L1389.8 1297.3 L1388.1 1299.0 L1386.3 1299.2 L1384.5 1298.9 L1382.8 1298.7 L1381.0 1298.2 L1379.4 1299.5 L1377.8 1301.3 L1376.1 1302.5 L1374.3 1303.3 L1372.5 1305.1 L1370.8 1305.4 L1369.0 1305.0 L1367.2 1304.5 L1365.5 1303.9 L1363.7 1302.5 L1361.9 1302.4 L1360.3 1299.7 L1358.7 1298.2 L1356.6 1298.5 L1354.5 1299.2 L1352.7 1300.6 L1351.0 1302.5 L1349.2 1305.1 L1347.4 1304.9 L1345.7 1303.9 L1343.9 1304.0 L1342.1 1303.2 L1340.4 1302.7 L1338.6 1301.9 L1336.8 1301.7 L1335.1 1303.2 L1333.3 1302.9 L1331.5 1301.8 L1329.8 1300.7 L1328.0 1300.3 L1326.2 1300.9 L1324.5 1301.6 L1322.7 1301.3 L1320.9 1302.6 L1319.2 1303.1 L1317.4 1304.5 L1315.6 1305.2 L1313.9 1304.2 L1312.1 1305.1 L1310.3 1304.6 L1308.6 1304.3 L1306.8 1302.9 L1305.0 1304.0 L1303.3 1304.0 L1301.5 1304.0 L1299.7 1303.0 L1298.0 1303.5 L1296.2 1302.9 L1294.4 1303.3 L1292.7 1303.4 L1290.9 1302.9 L1289.1 1302.0 L1287.4 1301.3 L1285.6 1301.3 L1283.5 1302.0 L1281.4 1301.8 L1279.2 1301.9Z" fill="#0072BD" stroke="#0072BD" stroke-width="0.6" stroke-linejoin="round"/>
<path d="M1224.0 1129.0 L1231.0 1131.5 L1234.5 1134.5 L1237.3 1140.3 L1239.8 1158.4 L1244.0 1182.6 L1248.6 1206.8 L1253.4 1231.0 L1256.1 1255.2 L1258.5 1263.5 L1261.5 1269.5 L1265.5 1276.5 L1270.0 1280.5 L1273.8 1284.5 L1276.0 1292.5 L1278.5 1297.0 L1284.0 1297.5" fill="none" stroke="#0072BD" stroke-width="7.2" stroke-linejoin="round" stroke-linecap="round"/>
</g>
<text transform="translate(257.20 1548.70) scale(0.947 1)" text-anchor="middle" class="tk">0.15</text>
<text transform="translate(452.20 1548.70) scale(0.947 1)" text-anchor="middle" class="tk">0.16</text>
<text transform="translate(647.20 1548.70) scale(0.947 1)" text-anchor="middle" class="tk">0.17</text>
<text transform="translate(842.20 1548.70) scale(0.947 1)" text-anchor="middle" class="tk">0.18</text>
<text transform="translate(1037.20 1548.70) scale(0.947 1)" text-anchor="middle" class="tk">0.19</text>
<text transform="translate(1232.20 1548.70) scale(0.947 1)" text-anchor="middle" class="tk">0.2</text>
<text transform="translate(1427.20 1548.70) scale(0.947 1)" text-anchor="middle" class="tk">0.21</text>
<text transform="translate(1622.20 1548.70) scale(0.947 1)" text-anchor="middle" class="tk">0.22</text>
<text transform="translate(1817.20 1548.70) scale(0.947 1)" text-anchor="middle" class="tk">0.23</text>
<text transform="translate(2012.20 1548.70) scale(0.947 1)" text-anchor="middle" class="tk">0.24</text>
<text transform="translate(2207.20 1548.70) scale(0.947 1)" text-anchor="middle" class="tk">0.25</text>
<text transform="translate(229.60 1484.20) scale(0.947 1)" text-anchor="end" class="tk">150</text>
<text transform="translate(229.60 1372.80) scale(0.947 1)" text-anchor="end" class="tk">160</text>
<text transform="translate(229.60 1261.40) scale(0.947 1)" text-anchor="end" class="tk">170</text>
<text transform="translate(229.60 1150.00) scale(0.947 1)" text-anchor="end" class="tk">180</text>
<text transform="translate(229.60 1038.60) scale(0.947 1)" text-anchor="end" class="tk">190</text>
<text transform="translate(229.60 927.20) scale(0.947 1)" text-anchor="end" class="tk">200</text>
<text x="1231" y="1641" text-anchor="middle" class="lb">Time (s)</text>
<text transform="translate(96.6 1181.7) rotate(-90)" text-anchor="middle" class="lb">voltage amplitude</text>
</svg>
</body></html>
